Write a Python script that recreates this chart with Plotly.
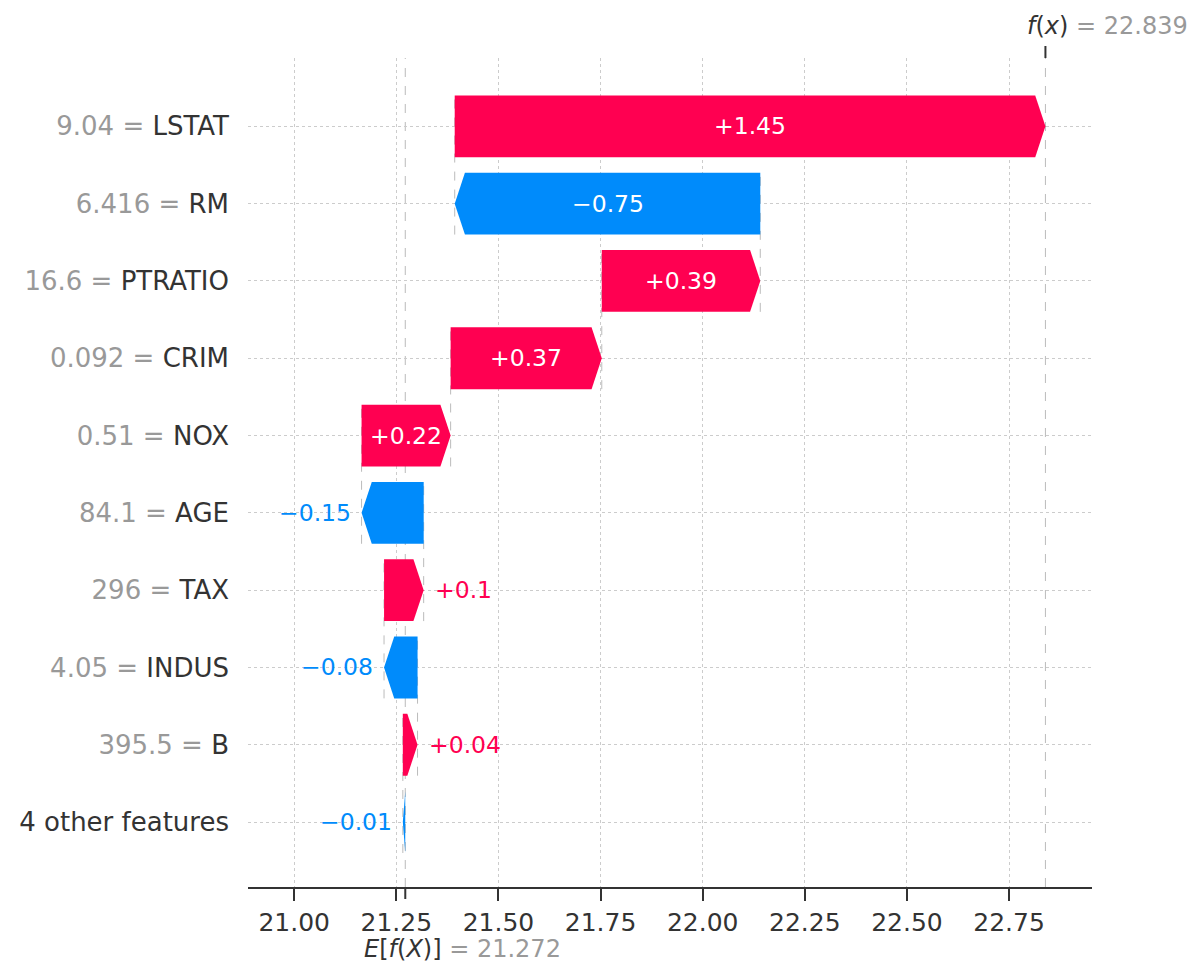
import plotly.graph_objects as go

# SHAP waterfall: one observation from the Boston housing model
features = ["LSTAT", "RM", "PTRATIO", "CRIM", "NOX", "AGE", "TAX", "INDUS", "B", "4 other features"]
feature_values = ["9.04", "6.416", "16.6", "0.092", "0.51", "84.1", "296", "4.05", "395.5", ""]
shap_values = [1.446, -0.748, 0.388, 0.370, 0.218, -0.152, 0.097, -0.082, 0.036, -0.006]
base_value = 21.272
x_ticks = [21.00, 21.25, 21.50, 21.75, 22.00, 22.25, 22.50, 22.75]

RED = "#ff0051"
BLUE = "#008bfb"
DARK = "#333333"
GRAY = "#999999"
FONT = "DejaVu Sans"

# the page body adds an 8px margin, so the figure is 8px smaller than the window
W, H = 1192, 970
M = dict(l=240, r=108, t=50, b=91)
X_RANGE = [20.887, 22.953]
Y_RANGE = [-0.84, 9.884]
BAR_H = 0.8
HEAD = 0.025  # arrow head length, data units
LABEL_SIZE = 23.5

px_per_unit = (W - M["l"] - M["r"]) / (X_RANGE[1] - X_RANGE[0])
fx = base_value + sum(shap_values)


def fmt(v):
    s = "%+0.02f" % v
    if "." in s:
        s = s.rstrip("0").rstrip(".")
    return s.replace("-", "\u2212")


n = len(features)
rows = [n - 1 - i for i in range(n)]  # top feature on top

# cumulative positions, building from the bottom row up
starts = [0.0] * n
pos = base_value
for i in reversed(range(n)):
    starts[i] = pos
    pos += shap_values[i]

fig = go.Figure()
annotations = []
shapes = []

for i in range(n):
    v = shap_values[i]
    s = starts[i]
    e = s + v
    y = rows[i]
    sign = 1 if v > 0 else -1
    hl = min(abs(v), HEAD)
    body = e - sign * hl
    col = RED if v > 0 else BLUE
    xs = [s, body, e, body, s, s]
    ys = [y - BAR_H / 2, y - BAR_H / 2, y, y + BAR_H / 2, y + BAR_H / 2, y - BAR_H / 2]
    fig.add_trace(go.Scatter(
        x=xs, y=ys, fill="toself", fillcolor=col, mode="lines",
        line=dict(width=0, color=col), hoverinfo="skip", showlegend=False,
    ))

    label = fmt(v)
    text_px = len(label) * 0.61 * LABEL_SIZE
    if abs(v) * px_per_unit > text_px:
        annotations.append(dict(
            x=(s + e) / 2, y=y, text=label, showarrow=False,
            font=dict(family=FONT, size=LABEL_SIZE, color="white"),
            xanchor="center", yanchor="middle",
        ))
    else:
        annotations.append(dict(
            x=e, y=y, text=label, showarrow=False,
            font=dict(family=FONT, size=LABEL_SIZE, color=col),
            xanchor="left" if v > 0 else "right", yanchor="middle",
            xshift=9 if v > 0 else -9,
        ))

    # dashed connector to the row below
    if i < n - 1:
        shapes.append(dict(
            type="line", xref="x", yref="y", x0=s, x1=s,
            y0=y - 1 - BAR_H / 2, y1=y + BAR_H / 2,
            line=dict(color="#bbbbbb", width=1, dash="dash"), layer="below",
        ))

# full-height reference lines at E[f(X)] and f(x)
for xv in [base_value, fx]:
    shapes.append(dict(
        type="line", xref="x", yref="paper", x0=xv, x1=xv, y0=0, y1=1,
        line=dict(color="#bbbbbb", width=1, dash="dash"), layer="below",
    ))

# extra ticks for E[f(X)] (bottom) and f(x) (top)
shapes.append(dict(
    type="line", xref="x", yref="paper", ysizemode="pixel", yanchor=0,
    x0=base_value, x1=base_value, y0=0, y1=-12, line=dict(color=DARK, width=2),
))
shapes.append(dict(
    type="line", xref="x", yref="paper", ysizemode="pixel", yanchor=1,
    x0=fx, x1=fx, y0=0, y1=12, line=dict(color=DARK, width=2),
))

annotations.append(dict(
    x=fx, y=1, xref="x", yref="paper", showarrow=False,
    text="<i>f</i>(<i>x</i>) <span style='color:%s'>= %.3f</span>" % (GRAY, fx),
    font=dict(family=FONT, size=24, color=DARK),
    xanchor="left", yanchor="bottom", xshift=-20, yshift=16,
))
annotations.append(dict(
    x=base_value, y=0, xref="x", yref="paper", showarrow=False,
    text="<i>E</i>[<i>f</i>(<i>X</i>)] <span style='color:%s'>= %.3f</span>" % (GRAY, base_value),
    font=dict(family=FONT, size=24, color=DARK),
    xanchor="left", yanchor="top", xshift=-43, yshift=-46,
))

ytext = []
for name, val in zip(features, feature_values):
    if val:
        ytext.append("<span style='color:%s'>%s = </span>%s" % (GRAY, val, name))
    else:
        ytext.append(name)

fig.update_layout(
    width=W, height=H, margin=M,
    paper_bgcolor="white", plot_bgcolor="white",
    font=dict(family=FONT, color=DARK),
    showlegend=False,
    shapes=shapes, annotations=annotations,
    xaxis=dict(
        range=X_RANGE, tickvals=x_ticks, ticktext=["%.2f" % t for t in x_ticks],
        showline=True, linecolor=DARK, linewidth=2,
        ticks="outside", ticklen=12, tickwidth=2, tickcolor=DARK,
        tickfont=dict(family=FONT, size=25, color=DARK),
        showgrid=True, gridcolor="#cccccc", griddash="dot", gridwidth=1,
        zeroline=False, fixedrange=True, automargin=False,
    ),
    yaxis=dict(
        range=Y_RANGE, tickvals=rows, ticktext=ytext,
        showline=False, ticks="", ticklabelstandoff=18,
        tickfont=dict(family=FONT, size=26, color=DARK),
        showgrid=True, gridcolor="#cccccc", griddash="dot", gridwidth=1,
        zeroline=False, fixedrange=True, automargin=False,
    ),
)

fig.write_html("out.html")
